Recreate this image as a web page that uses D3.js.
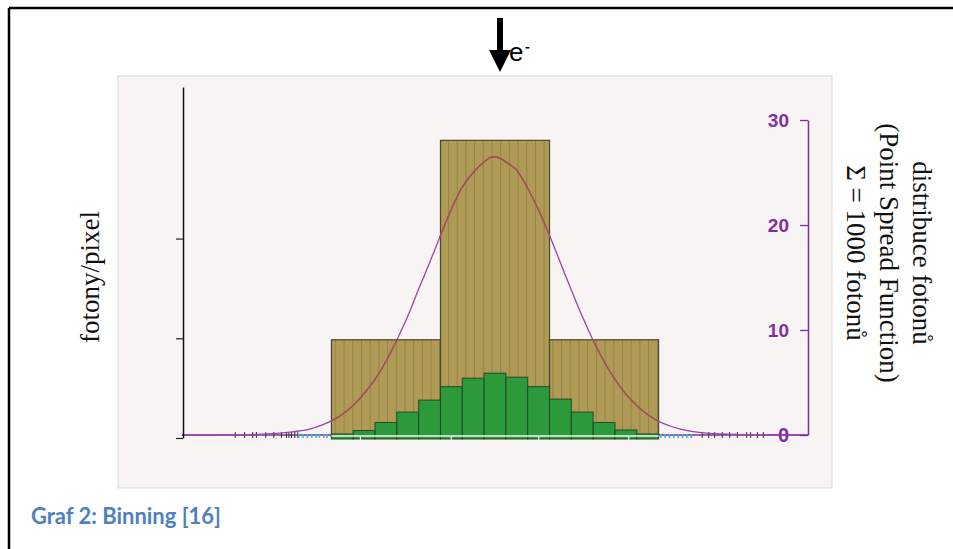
<!DOCTYPE html>
<html>
<head>
<meta charset="utf-8">
<script src="https://cdn.jsdelivr.net/npm/d3@7/dist/d3.min.js"></script>
<style>
  html, body { margin: 0; padding: 0; background: #fff; }
  svg { display: block; }
</style>
</head>
<body>
<svg id="chart" width="953" height="549"></svg>
<script>
// ---------------- DATA ----------------
// small pixels: 15 bins, photons per pixel (left axis, unlabelled)
const smallBins = d3.range(15);
const smallValues = [8, 15, 31, 52, 76, 103, 120, 130, 122, 103, 78, 52, 31, 16, 8];
// large pixels: 3 bins, each covering 5 small bins
const largeBins = [0, 5, 10];
const largeValues = [197, 597, 197];
// point spread function (right axis), x in small-bin units
const psfX = [-6.85, -4, -3, -2.5, -2, -1.5, -1, -0.5, 0, 0.5, 1, 1.5, 2, 2.5, 3, 3.5, 4, 4.5, 5, 5.5, 6, 6.5, 7, 7.25, 7.5, 7.75, 8, 8.5, 9, 9.5, 10, 10.5, 11, 11.5, 12, 12.5, 13, 13.5, 14, 14.5, 15, 15.5, 16, 16.5, 17, 17.5, 19, 21.85];
const psfY = [0, 0.02, 0.1, 0.16, 0.25, 0.38, 0.57, 0.9, 1.34, 1.97, 2.82, 3.95, 5.3, 7.0, 9.05, 11.3, 13.9, 16.4, 19.0, 21.5, 23.6, 25.0, 26.0, 26.4, 26.5, 26.35, 26.0, 25.2, 23.5, 21.4, 19.0, 16.4, 13.8, 11.3, 9.0, 7.0, 5.3, 3.9, 2.8, 1.95, 1.3, 0.88, 0.55, 0.35, 0.22, 0.12, 0.03, 0];
const rightTicks = [0, 10, 20, 30];
const leftTicks = [0, 200, 400];
const leftLabel = "fotony/pixel";
const rightLabel = ["distribuce fotonů", "(Point Spread Function)", "Σ = 1000 fotonů"];
const caption = "Graf 2: Binning [16]";
// decorative tick marks along the base line (x in small-bin units)
const baseTicks = [-4.41, -3.98, -3.61, -3.44, -3.01, -2.64, -2.29, -2.06, -1.95, -1.83, -1.68, -1.54, 17.0, 17.3, 17.57, 17.92, 18.26, 18.61, 19.04, 19.22, 19.53, 19.8];
const cyanTicks = [-1.5, -1.3, -1.1, -0.9, -0.7, -0.55, -0.35, -0.2, 15.1, 15.3, 15.5, 15.7, 15.9, 16.1, 16.3, 16.5];
const whiteTicks = [1.33, 5.5, 9.5, 13.63];

// ---------------- SCALES ----------------
const svg = d3.select("#chart");
const x = d3.scaleLinear().domain([-6.85, 21.85]).range([182, 808]);
const yL = d3.scaleLinear().domain([0, 704]).range([438, 87]);
const yR = d3.scaleLinear().domain([0, 30]).range([435, 120]);

const purple = "#7f2f9f";

// page frame
svg.append("line").attr("x1", 9).attr("x2", 953).attr("y1", 8).attr("y2", 8).attr("stroke", "#000").attr("stroke-width", 2.5);
svg.append("line").attr("x1", 9).attr("x2", 9).attr("y1", 8).attr("y2", 549).attr("stroke", "#000").attr("stroke-width", 2.5);

// panel background
svg.append("rect").attr("x", 118).attr("y", 76).attr("width", 714).attr("height", 412)
  .attr("fill", "#f7f4f3").attr("stroke", "#dbd7d7").attr("stroke-width", 1);

// stripe pattern for olive bars
const defs = svg.append("defs");
const pat = defs.append("pattern").attr("id", "stripes").attr("patternUnits", "userSpaceOnUse")
  .attr("x", 331).attr("y", 0).attr("width", 8.7).attr("height", 10);
pat.append("rect").attr("width", 8.7).attr("height", 10).attr("fill", "#b09b56");
pat.append("rect").attr("x", 4).attr("width", 0.9).attr("height", 10).attr("fill", "#927f44");

// purple base line
svg.append("line").attr("x1", x(-6.85)).attr("x2", x(21.85)).attr("y1", yR(0)).attr("y2", yR(0))
  .attr("stroke", purple).attr("stroke-width", 1.5);

// base line decorative ticks
svg.append("g").selectAll("line").data(baseTicks).join("line")
  .attr("x1", d => x(d)).attr("x2", d => x(d)).attr("y1", yR(0) - 3).attr("y2", yR(0) + 3)
  .attr("stroke", "#333").attr("stroke-width", 1);
svg.append("g").selectAll("line").data(cyanTicks).join("line")
  .attr("x1", d => x(d)).attr("x2", d => x(d)).attr("y1", yR(0) - 1).attr("y2", yR(0) + 3)
  .attr("stroke", "#3ab8d0").attr("stroke-width", 1.6);

// olive bars
const bw = x(1) - x(0);
const olive = svg.append("g");
olive.selectAll("rect").data(largeBins).join("rect")
  .attr("x", d => x(d)).attr("width", bw * 5)
  .attr("y", (d, i) => yL(largeValues[i])).attr("height", (d, i) => yL(0) - 1 - yL(largeValues[i]))
  .attr("fill", "url(#stripes)").attr("stroke", "#4b4633").attr("stroke-width", 1.2);

// clip path of olive bars for curve color change
const clip = defs.append("clipPath").attr("id", "oliveClip");
clip.selectAll("rect").data(largeBins).join("rect")
  .attr("x", d => x(d)).attr("width", bw * 5)
  .attr("y", (d, i) => yL(largeValues[i])).attr("height", (d, i) => yL(0) - yL(largeValues[i]));

// PSF curve
const pts = psfX.map((v, i) => [v, psfY[i]]);
const line = d3.line().x(d => x(d[0])).y(d => yR(d[1])).curve(d3.curveMonotoneX);
svg.append("path").attr("d", line(pts)).attr("fill", "none").attr("stroke", "#9a45a6").attr("stroke-width", 1.3);
svg.append("path").attr("d", line(pts)).attr("fill", "none").attr("stroke", "#a5504e").attr("stroke-width", 1.4)
  .attr("clip-path", "url(#oliveClip)");

// green bars
svg.append("g").selectAll("rect").data(smallBins).join("rect")
  .attr("x", d => x(d)).attr("width", bw)
  .attr("y", (d, i) => yL(smallValues[i])).attr("height", (d, i) => yL(0) + 1 - yL(smallValues[i]))
  .attr("fill", "#2c9a3c").attr("stroke", "#1f4a27").attr("stroke-width", 1);

// white line across bars
svg.append("line").attr("x1", x(0)).attr("x2", x(15)).attr("y1", 436).attr("y2", 436)
  .attr("stroke", "#f4f4f0").attr("stroke-width", 1.5);
svg.append("g").selectAll("line").data(whiteTicks).join("line")
  .attr("x1", d => x(d)).attr("x2", d => x(d)).attr("y1", 436).attr("y2", 440)
  .attr("stroke", "#f4f4f0").attr("stroke-width", 1.2);

// left axis
const gL = svg.append("g").attr("transform", "translate(183,0)")
  .call(d3.axisLeft(yL).tickValues(leftTicks).tickSize(7).tickSizeOuter(0).tickFormat(""));
gL.select(".domain").attr("stroke", "#111").attr("stroke-width", 1.5);
gL.selectAll(".tick line").attr("stroke", "#222").attr("stroke-width", 1.2);

// right axis
const gR = svg.append("g").attr("transform", "translate(808,0)")
  .call(d3.axisLeft(yR).tickValues(rightTicks).tickSize(8).tickSizeOuter(0).tickPadding(11));
gR.select(".domain").attr("stroke", purple).attr("stroke-width", 1.5);
gR.selectAll(".tick line").attr("stroke", purple).attr("stroke-width", 1.3);
gR.selectAll(".tick text").attr("fill", purple).attr("font-family", "Liberation Sans, Arial, sans-serif")
  .attr("font-weight", "bold").attr("font-size", d => d === 0 ? 20 : 19);

// left label
svg.append("text").attr("transform", "translate(99,277) rotate(-90)")
  .attr("text-anchor", "middle").attr("font-family", "Liberation Serif, Times New Roman, serif")
  .attr("font-size", 27).attr("fill", "#111").text(leftLabel);

// right label
const rl = svg.append("g");
const baseX = [913, 880, 847];
rightLabel.forEach((t, i) => {
  rl.append("text").attr("transform", `translate(${baseX[i]},253) rotate(90)`)
    .attr("text-anchor", "middle").attr("font-family", "Liberation Serif, Times New Roman, serif")
    .attr("font-size", 27).attr("fill", "#111").text(t);
});

// electron arrow
svg.append("rect").attr("x", 497).attr("y", 18).attr("width", 6).attr("height", 34).attr("fill", "#000");
svg.append("path").attr("d", "M489,50 L511,50 L500,72 Z").attr("fill", "#000");
svg.append("text").attr("x", 509).attr("y", 61).attr("font-family", "Liberation Sans, Arial, sans-serif")
  .attr("font-size", 26).attr("fill", "#000").text("e");
svg.append("rect").attr("x", 525.5).attr("y", 47).attr("width", 4).attr("height", 1.5).attr("fill", "#000");

// caption
const cap = svg.append("text").attr("x", 31).attr("y", 524).attr("font-family", "Lato, Open Sans, sans-serif")
  .attr("font-weight", "bold").attr("font-size", 22).attr("fill", "#4f81bd").text(caption);
const w = cap.node().getComputedTextLength();
cap.attr("font-size", 22 * 190 / w);
</script>
</body>
</html>
